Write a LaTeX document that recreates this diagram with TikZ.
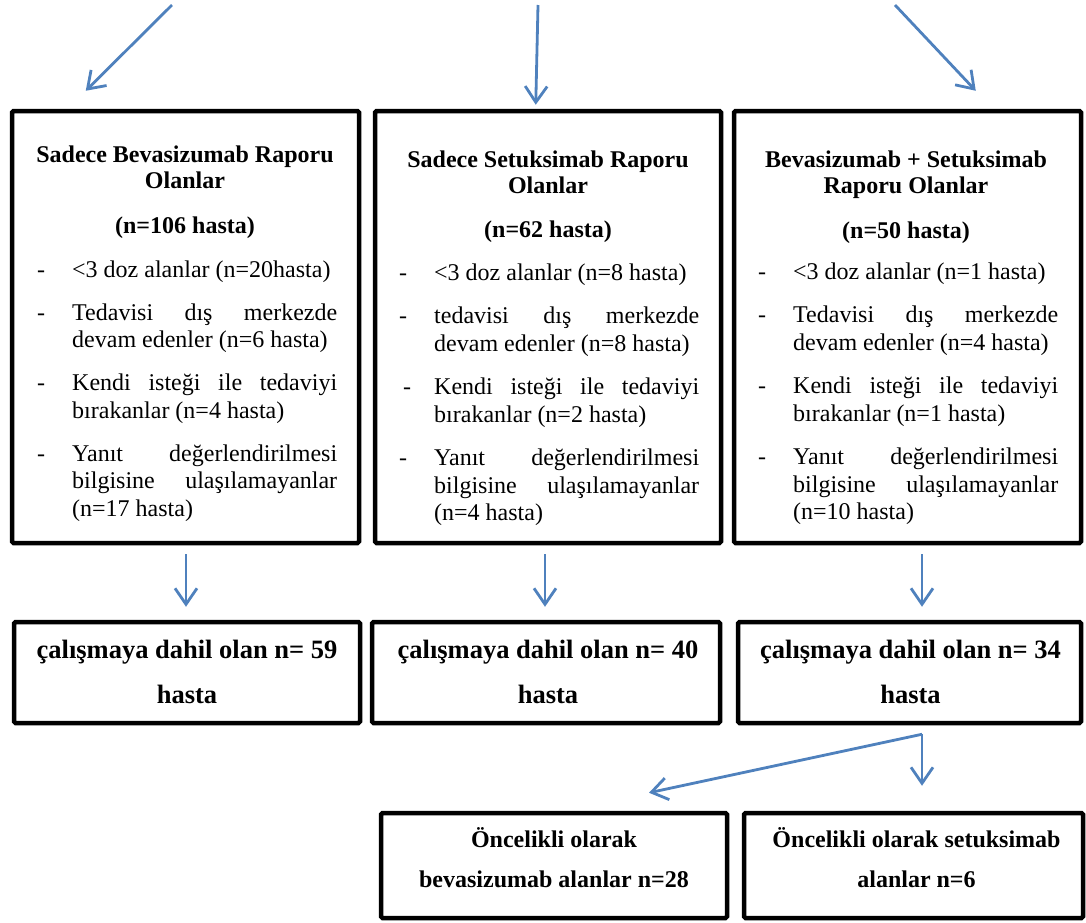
\documentclass[tikz,border=0pt]{standalone}
\usepackage{fontspec}
\setmainfont{Liberation Serif}
\usetikzlibrary{arrows.meta,calc}
\definecolor{arrblue}{RGB}{79,129,189}
\newcommand{\jl}[1]{\makebox[265pt][s]{#1}}
\newcommand{\dd}{\makebox[35pt][l]{-}}
\newcommand{\bodyf}{\fontsize{24}{27.5}\selectfont}
\newcommand{\headf}{\bfseries\fontsize{24}{26}\selectfont}
\begin{document}
\begin{tikzpicture}[x=1pt,y=-1pt,
  bx/.style={draw=black,line width=4.5pt,rounded corners=1.5pt,inner sep=0pt},
  arr/.style={draw=arrblue,line width=2.8pt,-{Straight Barb[length=16pt,width=22pt]}},
  txt/.style={inner sep=0pt,anchor=base},
  lst/.style={inner sep=0pt,anchor=base west}]
\useasboundingbox (0,0) rectangle (1086,922);
% top-row boxes
\node[bx,minimum width=347pt,minimum height=432pt] (b1) at (185.5,327) {};
\node[bx,minimum width=346pt,minimum height=432pt] (b2) at (548,327) {};
\node[bx,minimum width=347pt,minimum height=432pt] (b3) at (907.5,327) {};
% second-row boxes
\node[bx,minimum width=346pt,minimum height=101pt] (c1) at (187,672.5) {};
\node[bx,minimum width=348pt,minimum height=101pt] (c2) at (546,672.5) {};
\node[bx,minimum width=343pt,minimum height=101pt] (c3) at (909.5,672.5) {};
% third-row boxes
\node[bx,minimum width=346pt,minimum height=105pt] (d1) at (554,865.5) {};
\node[bx,minimum width=339pt,minimum height=105pt] (d2) at (913.5,865.5) {};

% headers
\node[txt,font=\headf] (h1) at (185,162) {\begin{tabular}[t]{@{}c@{}}Sadece Bevasizumab Raporu\\Olanlar\end{tabular}};
\node[txt,font=\headf] (n1) at (185,233) {(n=106 hasta)};
\node[txt,font=\headf] (h2) at (548,167) {\begin{tabular}[t]{@{}c@{}}Sadece Setuksimab Raporu\\Olanlar\end{tabular}};
\node[txt,font=\headf] (n2) at (548,237) {(n=62 hasta)};
\node[txt,font=\headf] (h3) at (906,167) {\begin{tabular}[t]{@{}c@{}}Bevasizumab + Setuksimab\\Raporu Olanlar\end{tabular}};
\node[txt,font=\headf] (n3) at (906,238) {(n=50 hasta)};

% lists
\node[lst] (l1) at (37,277) {\bodyf\begin{tabular}[t]{@{}l@{}l@{}}
\dd & <3 doz alanlar (n=20hasta)\\[15.5pt]
\dd & \jl{Tedavisi dış merkezde}\\
    & devam edenler (n=6 hasta)\\[15.5pt]
\dd & \jl{Kendi isteği ile tedaviyi}\\
    & bırakanlar (n=4 hasta)\\[15.5pt]
\dd & \jl{Yanıt değerlendirilmesi}\\
    & \jl{bilgisine ulaşılamayanlar}\\
    & (n=17 hasta)
\end{tabular}};
\node[lst] (l2) at (399,280) {\bodyf\begin{tabular}[t]{@{}l@{}l@{}}
\dd & <3 doz alanlar (n=8 hasta)\\[16pt]
\dd & \jl{tedavisi dış merkezde}\\
    & devam edenler (n=8 hasta)\\[16pt]
\hspace{4pt}\makebox[31pt][l]{-} & \jl{Kendi isteği ile tedaviyi}\\
    & bırakanlar (n=2 hasta)\\[16pt]
\dd & \jl{Yanıt değerlendirilmesi}\\
    & \jl{bilgisine ulaşılamayanlar}\\
    & (n=4 hasta)
\end{tabular}};
\node[lst] (l3) at (758,279) {\bodyf\begin{tabular}[t]{@{}l@{}l@{}}
\dd & <3 doz alanlar (n=1 hasta)\\[16pt]
\dd & \jl{Tedavisi dış merkezde}\\
    & devam edenler (n=4 hasta)\\[16pt]
\dd & \jl{Kendi isteği ile tedaviyi}\\
    & bırakanlar (n=1 hasta)\\[16pt]
\dd & \jl{Yanıt değerlendirilmesi}\\
    & \jl{bilgisine ulaşılamayanlar}\\
    & (n=10 hasta)
\end{tabular}};

% second-row texts
\node[txt,font=\bfseries\fontsize{26.5}{45}\selectfont] (t1) at (187,658) {\begin{tabular}[t]{@{}c@{}}çalışmaya dahil olan n= 59\\hasta\end{tabular}};
\node[txt,font=\bfseries\fontsize{26.5}{45}\selectfont] (t2) at (548,658) {\begin{tabular}[t]{@{}c@{}}çalışmaya dahil olan n= 40\\hasta\end{tabular}};
\node[txt,font=\bfseries\fontsize{26.5}{45}\selectfont] (t3) at (910.5,658) {\begin{tabular}[t]{@{}c@{}}çalışmaya dahil olan n= 34\\hasta\end{tabular}};

% third-row texts
\node[txt,font=\bfseries\fontsize{24}{40}\selectfont] (u1) at (554,847) {\begin{tabular}[t]{@{}c@{}}Öncelikli olarak\\bevasizumab alanlar n=28\end{tabular}};
\node[txt,font=\bfseries\fontsize{24}{40}\selectfont] (u2) at (916.5,847) {\begin{tabular}[t]{@{}c@{}}Öncelikli olarak setuksimab\\alanlar n=6\end{tabular}};

% top incoming arrows
\coordinate (s1) at (172,5);
\coordinate (s2) at (538,5);
\coordinate (s3) at (895,5);
\coordinate (e1) at ($(b1.north west)+(76,-18)$);
\coordinate (e2) at ($(b2.north west)+(163,-4)$);
\coordinate (e3) at ($(b3.north west)+(244,-18)$);
\draw[arr] (s1) -- (e1);
\draw[arr] (s2) -- (e2);
\draw[arr] (s3) -- (e3);

% down arrows
\draw[arr,shorten <=9pt,shorten >=13pt] ([xshift=0.5pt]b1.south) -- ([xshift=0.5pt]b1.south |- c1.north);
\draw[arr,shorten <=9pt,shorten >=13pt] ([xshift=-3pt]b2.south) -- ([xshift=-3pt]b2.south |- c2.north);
\draw[arr,shorten <=9pt,shorten >=13pt] ([xshift=14.5pt]b3.south) -- ([xshift=14.5pt]b3.south |- c3.north);

% branch
\coordinate (br) at ($(c3.south)+(12.5,9)$);
\draw[arr,shorten >=25pt] (br) -- (br |- d2.north);
\draw[arr] (br) -- ($(d1.north)+(95,-18)$);
\end{tikzpicture}
\end{document}
